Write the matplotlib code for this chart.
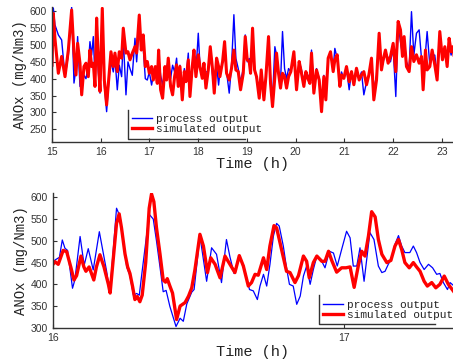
import numpy as np
import matplotlib.pyplot as plt
from matplotlib.lines import Line2D

# ---------------- top panel data (15 h .. 23.25 h) ----------------
t_top = [
    15.000, 15.027, 15.060, 15.130, 15.198, 15.267, 15.335, 15.403, 15.451, 15.492,
    15.526, 15.574, 15.609, 15.656, 15.697, 15.745, 15.779, 15.814, 15.848, 15.882,
    15.916, 15.950, 15.985, 16.032, 16.074, 16.121, 16.169, 16.210, 16.258, 16.292,
    16.340, 16.381, 16.429, 16.463, 16.518, 16.559, 16.600, 16.648, 16.703, 16.737,
    16.791, 16.832, 16.873, 16.915, 16.956, 16.997, 17.044, 17.079, 17.120, 17.161,
    17.188, 17.229, 17.270, 17.318, 17.352, 17.386, 17.434, 17.475, 17.516, 17.557,
    17.591, 17.626, 17.674, 17.715, 17.749, 17.797, 17.831, 17.879, 17.913, 17.954,
    18.002, 18.036, 18.084, 18.118, 18.159, 18.207, 18.248, 18.296, 18.330, 18.378,
    18.419, 18.446, 18.501, 18.542, 18.583, 18.637, 18.685, 18.733, 18.774, 18.822,
    18.870, 18.925, 18.966, 19.007, 19.048, 19.075, 19.116, 19.157, 19.198, 19.253,
    19.294, 19.349, 19.390, 19.444, 19.485, 19.526, 19.574, 19.608, 19.649, 19.690,
    19.731, 19.773, 19.814, 19.855, 19.902, 19.964, 20.019, 20.073, 20.114, 20.169,
    20.210, 20.251, 20.292, 20.326, 20.374, 20.429, 20.484, 20.532, 20.579, 20.620,
    20.668, 20.716, 20.771, 20.805, 20.853, 20.908, 20.942, 20.990, 21.044, 21.099,
    21.147, 21.195, 21.249, 21.304, 21.352, 21.400, 21.455, 21.503, 21.557, 21.605,
    21.660, 21.714, 21.762, 21.797, 21.844, 21.899, 21.947, 22.002, 22.056, 22.104,
    22.152, 22.193, 22.227, 22.275, 22.330, 22.378, 22.426, 22.480, 22.535, 22.583,
    22.617, 22.665, 22.699, 22.754, 22.802, 22.856, 22.904, 22.959, 23.014, 23.062,
    23.110, 23.150, 23.191, 23.226, 23.250,
]
sim_top = [
    440, 594, 520, 416, 466, 406, 485, 604, 476, 411,
    505, 446, 352, 436, 446, 406, 485, 436, 446, 377,
    580, 456, 362, 609, 396, 322, 406, 480, 436, 476,
    421, 480, 461, 550, 476, 480, 456, 476, 495, 476,
    589, 485, 530, 436, 451, 416, 436, 396, 436, 386,
    485, 367, 342, 436, 396, 461, 377, 352, 406, 441,
    377, 436, 337, 421, 391, 456, 347, 436, 485, 406,
    471, 436, 401, 446, 372, 426, 495, 426, 357, 461,
    436, 406, 451, 510, 416, 396, 431, 485, 426, 421,
    367, 416, 525, 456, 451, 416, 550, 426, 406, 342,
    426, 337, 406, 525, 386, 317, 406, 476, 416, 372,
    416, 406, 372, 406, 421, 480, 367, 451, 421, 377,
    421, 401, 386, 476, 357, 426, 396, 302, 406, 337,
    461, 480, 421, 456, 471, 377, 411, 401, 436, 391,
    421, 382, 431, 396, 411, 421, 382, 411, 461, 337,
    396, 535, 426, 456, 485, 446, 466, 505, 421, 570,
    545, 466, 525, 436, 421, 495, 451, 471, 446, 466,
    367, 485, 426, 436, 485, 441, 396, 540, 456, 495,
    436, 520, 480, 495, 470,
]
proc_top = [
    367, 610, 560, 530, 515, 406, 470, 612, 387, 430,
    525, 377, 380, 410, 400, 440, 510, 470, 525, 400,
    580, 420, 357, 600, 380, 302, 400, 450, 420, 460,
    367, 440, 406, 520, 352, 450, 430, 410, 520, 450,
    560, 485, 490, 400, 396, 420, 381, 410, 420, 400,
    470, 410, 380, 430, 430, 455, 400, 440, 420, 461,
    390, 440, 360, 430, 400, 476, 370, 440, 480, 420,
    535, 440, 410, 430, 420, 420, 480, 410, 386, 440,
    381, 420, 450, 480, 420, 357, 440, 590, 460, 430,
    390, 430, 530, 450, 460, 430, 510, 430, 400, 370,
    420, 360, 400, 520, 400, 340, 495, 470, 420, 390,
    540, 430, 400, 430, 420, 470, 380, 450, 430, 390,
    420, 410, 400, 485, 370, 430, 400, 320, 410, 350,
    460, 470, 430, 490, 460, 390, 420, 400, 430, 367,
    420, 390, 430, 400, 420, 352, 390, 410, 450, 367,
    410, 520, 430, 450, 480, 461, 450, 490, 347, 560,
    510, 470, 520, 450, 430, 599, 470, 535, 545, 460,
    390, 480, 540, 440, 470, 470, 410, 530, 460, 480,
    450, 500, 470, 490, 480,
]

# ---------------- bottom panel data (zoom 16 h .. 17.4 h) ----------------
t_proc_zoom = [
    16.000, 16.008, 16.023, 16.033, 16.042, 16.051, 16.068, 16.076, 16.094, 16.108,
    16.122, 16.139, 16.160, 16.174, 16.185, 16.196, 16.219, 16.231, 16.242, 16.254,
    16.265, 16.277, 16.288, 16.297, 16.305, 16.331, 16.345, 16.356, 16.368, 16.379,
    16.389, 16.402, 16.423, 16.437, 16.448, 16.460, 16.477, 16.485, 16.505, 16.528,
    16.545, 16.562, 16.579, 16.596, 16.608, 16.622, 16.640, 16.654, 16.675, 16.688,
    16.702, 16.711, 16.723, 16.734, 16.745, 16.757, 16.768, 16.777, 16.791, 16.802,
    16.812, 16.825, 16.837, 16.849, 16.860, 16.871, 16.883, 16.894, 16.906, 16.920,
    16.934, 16.949, 16.963, 16.976, 16.991, 17.008, 17.020, 17.031, 17.043, 17.054,
    17.068, 17.077, 17.088, 17.102, 17.117, 17.129, 17.140, 17.151, 17.163, 17.174,
    17.186, 17.197, 17.208, 17.225, 17.237, 17.248, 17.260, 17.274, 17.289, 17.303,
    17.317, 17.328, 17.340, 17.354, 17.363, 17.377,
]
proc_zoom = [
    448, 456, 462, 502, 483, 478, 391, 410, 510, 444,
    482, 433, 521, 470, 430, 379, 575, 556, 500, 440,
    420, 375, 379, 375, 420, 561, 550, 500, 440, 383,
    386, 349, 303, 322, 315, 355, 382, 388, 511, 407,
    484, 469, 404, 503, 463, 425, 465, 445, 388, 385,
    365, 396, 423, 396, 445, 511, 540, 534, 488, 438,
    400, 396, 354, 373, 419, 442, 400, 434, 465, 457,
    438, 476, 472, 442, 480, 522, 507, 442, 442, 484,
    407, 457, 519, 503, 442, 427, 430, 446, 461, 492,
    512, 488, 473, 473, 488, 473, 450, 434, 446, 438,
    423, 425, 404, 388, 404, 396,
]
t_sim_zoom = [
    16.000, 16.008, 16.019, 16.036, 16.048, 16.062, 16.073, 16.082, 16.097, 16.107,
    16.114, 16.125, 16.133, 16.141, 16.150, 16.162, 16.176, 16.191, 16.197, 16.208,
    16.219, 16.228, 16.236, 16.248, 16.257, 16.265, 16.274, 16.282, 16.290, 16.299,
    16.307, 16.319, 16.331, 16.339, 16.347, 16.356, 16.368, 16.379, 16.387, 16.393,
    16.402, 16.411, 16.425, 16.437, 16.454, 16.466, 16.477, 16.488, 16.505, 16.517,
    16.531, 16.542, 16.557, 16.574, 16.591, 16.608, 16.625, 16.640, 16.654, 16.671,
    16.682, 16.694, 16.705, 16.723, 16.734, 16.745, 16.759, 16.768, 16.785, 16.802,
    16.814, 16.831, 16.843, 16.860, 16.871, 16.880, 16.894, 16.906, 16.923, 16.934,
    16.946, 16.957, 16.974, 16.991, 17.006, 17.020, 17.034, 17.048, 17.060, 17.071,
    17.083, 17.094, 17.106, 17.117, 17.129, 17.146, 17.160, 17.174, 17.186, 17.197,
    17.208, 17.223, 17.237, 17.248, 17.260, 17.274, 17.285, 17.300, 17.314, 17.328,
    17.343, 17.357, 17.377,
]
sim_zoom = [
    445, 452, 446, 478, 475, 440, 410, 420, 465, 440,
    430, 440, 425, 410, 440, 468, 440, 400, 380, 460,
    540, 562, 530, 470, 440, 425, 395, 365, 372, 360,
    375, 450, 575, 608, 590, 530, 470, 410, 405, 413,
    396, 380, 319, 350, 358, 373, 392, 434, 515, 488,
    427, 461, 446, 415, 465, 446, 427, 466, 442, 396,
    404, 423, 421, 461, 434, 488, 535, 530, 480, 430,
    427, 404, 420, 465, 453, 415, 450, 465, 453, 453,
    476, 455, 428, 438, 438, 440, 393, 442, 476, 465,
    511, 567, 555, 503, 469, 450, 455, 488, 503, 480,
    450, 438, 450, 440, 430, 407, 396, 404, 392, 400,
    419, 400, 382,
]

top_xticks = list(range(15, 24))
top_yticks = list(range(250, 601, 50))
zoom_xticks = [16, 17]
zoom_yticks = list(range(300, 601, 50))
labels = ['process output', 'simulated output']

MONO = 'Liberation Mono'
SANS = 'Liberation Sans'
AXC = '#333333'

fig = plt.figure(figsize=(4.53, 3.6), dpi=100)
ax1 = fig.add_axes([0.1148, 0.6047, 0.8852, 0.375])
ax2 = fig.add_axes([0.1163, 0.0894, 0.8837, 0.3745])


def style(ax, xticks, yticks, xlim, ylim, xlab_y):
    ax.set_xlim(*xlim)
    ax.set_ylim(*ylim)
    ax.set_xticks(xticks)
    ax.set_yticks(yticks)
    for s in ('top', 'right'):
        ax.spines[s].set_visible(False)
    for s in ('left', 'bottom'):
        ax.spines[s].set_color(AXC)
        ax.spines[s].set_linewidth(1.0)
    ax.tick_params(direction='in', length=3, width=0.8, color=AXC,
                   labelcolor=AXC, labelsize=7.5, pad=3.5)
    for lab in ax.get_xticklabels() + ax.get_yticklabels():
        lab.set_fontfamily(SANS)
    ax.set_xlabel('Time (h)', fontfamily=MONO, fontsize=11, color='#222222')
    ax.set_ylabel('ANOx (mg/Nm3)', fontfamily=MONO, fontsize=10, color='#222222')
    ax.xaxis.set_label_coords(0.5, xlab_y)
    ax.yaxis.set_label_coords(-0.062, 0.5)


def legend_box(ax, anchor, box):
    handles = [Line2D([], [], color='blue', lw=1.0),
               Line2D([], [], color='red', lw=2.4)]
    ax.legend(handles, labels, loc='upper left', bbox_to_anchor=anchor,
              frameon=False, borderaxespad=0, borderpad=0, labelspacing=0,
              handlelength=1.8, handletextpad=0.35,
              prop={'family': MONO, 'size': 8}, labelcolor='#222222')
    x1, x2, yb, yt = box
    ax.plot([x1, x1, x2], [yt, yb, yb], transform=ax.transAxes,
            color=AXC, lw=1.0, clip_on=False)


# top panel
ax1.plot(t_top, proc_top, color='blue', lw=1.0)
ax1.plot(t_top, sim_top, color='red', lw=2.2)
style(ax1, top_xticks, top_yticks, (15, 23.23), (211, 612), -0.108)
legend_box(ax1, (0.1995, 0.211), (0.1895, 0.481, 0.028, 0.239))

# bottom panel (zoom)
ax2.plot(t_proc_zoom, proc_zoom, color='blue', lw=0.9)
ax2.plot(t_sim_zoom, sim_zoom, color='red', lw=2.4)
style(ax2, zoom_xticks, zoom_yticks, (16, 17.373), (300, 610), -0.13)
legend_box(ax2, (0.676, 0.205), (0.6645, 0.955, 0.028, 0.243))

fig.savefig('out.png', dpi=100)
